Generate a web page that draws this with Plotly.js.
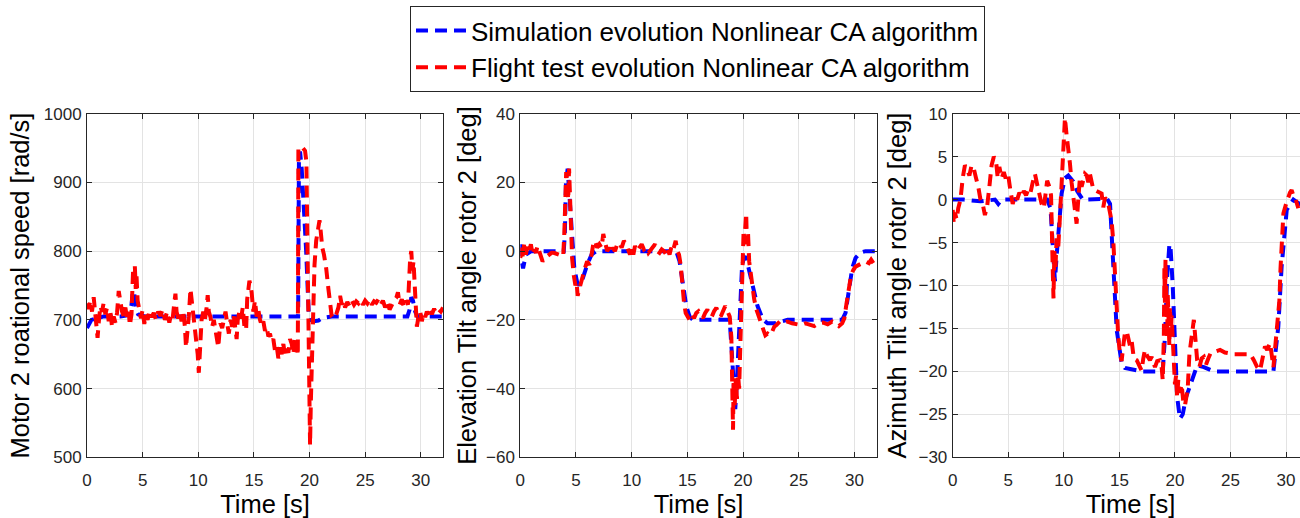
<!DOCTYPE html>
<html>
<head>
<meta charset="utf-8">
<script src="https://cdn.plot.ly/plotly-3.0.1.min.js"></script>
<style>
html,body{margin:0;padding:0;overflow:hidden;background:#fff;}
#chart{width:1320px;height:518px;}
</style>
</head>
<body>
<div id="chart"></div>
<script>
// ---------- Data ----------
const seriesNames = ['Simulation evolution Nonlinear CA algorithm', 'Flight test evolution Nonlinear CA algorithm'];
const yTitles = ['Motor 2 roational speed [rad/s]', 'Elevation Tilt angle rotor 2 [deg]', 'Azimuth Tilt angle rotor 2 [deg]'];
const xTitle = 'Time [s]';

// Panel 1: motor speed
const tSimSpeed = [0,0.15,0.4,0.8,1.5,3.0,3.8,4.0,4.12,4.25,4.4,4.6,5.2,7,10,14,18,18.98,19.05,19.15,19.3,19.5,19.7,19.85,19.95,20.1,20.4,20.8,21.2,22,25,28.8,29.0,29.15,29.3,29.5,29.7,30,32];
const simSpeed  = [688,692,700,702,705,705,707,722,742,738,715,708,705,705,705,705,705,705,930,945,920,870,800,740,706,700,698,699,703,705,705,705,715,733,728,712,705,705,705];
const tFltSpeed = [0,0.15,0.3,0.45,0.6,0.75,0.85,0.95,1.05,1.2,1.35,1.5,1.65,1.8,1.95,2.1,2.25,2.4,2.55,2.7,2.85,3.0,3.15,3.3,3.45,3.6,3.75,3.85,4.0,4.08,4.15,4.22,4.3,4.38,4.45,4.55,4.7,4.85,5.0,5.15,5.3,5.45,5.6,5.8,6.0,6.2,6.4,6.6,6.8,7.0,7.2,7.4,7.55,7.7,7.85,7.95,8.05,8.2,8.35,8.5,8.65,8.8,8.9,9.0,9.15,9.3,9.4,9.5,9.65,9.8,9.95,10.05,10.15,10.3,10.45,10.6,10.75,10.85,10.95,11.1,11.25,11.4,11.55,11.7,11.8,11.9,12.0,12.15,12.3,12.45,12.6,12.75,12.9,13.05,13.2,13.35,13.45,13.55,13.7,13.85,14.0,14.15,14.3,14.4,14.5,14.6,14.7,14.8,14.95,15.1,15.25,15.4,15.55,15.7,15.85,16.0,16.15,16.3,16.45,16.6,16.75,16.9,17.05,17.2,17.35,17.5,17.65,17.8,17.95,18.1,18.25,18.4,18.55,18.7,18.85,18.95,19.0,19.2,19.4,19.6,19.72,19.8,19.88,19.95,20.0,20.05,20.12,20.2,20.3,20.45,20.6,20.75,20.9,21.0,21.15,21.3,21.5,21.7,21.85,22.0,22.2,22.4,22.6,22.75,22.9,23.05,23.2,23.4,23.6,23.8,24.0,24.2,24.4,24.6,24.8,25.0,25.2,25.4,25.6,25.8,26.0,26.2,26.4,26.6,26.8,27.0,27.2,27.4,27.6,27.8,27.95,28.1,28.3,28.5,28.7,28.85,28.95,29.05,29.15,29.25,29.35,29.45,29.55,29.65,29.8,29.95,30.1,30.25,30.4,30.55,30.7,30.85,31.0,31.2,31.4,31.6,31.8,32.0];
const fltSpeed  = [724,716,728,712,733,700,680,674,695,720,712,725,708,718,698,712,690,705,696,710,742,725,712,705,718,702,712,692,708,745,775,760,778,745,765,728,712,702,715,694,708,700,712,704,710,700,712,706,715,700,712,696,708,702,725,738,712,702,710,698,712,690,660,675,705,745,730,715,698,680,650,623,660,700,712,700,718,736,712,704,690,700,685,668,660,680,695,688,700,712,695,680,700,690,705,685,672,700,712,702,718,690,685,730,748,757,750,740,712,728,705,715,700,692,698,684,690,676,680,668,672,655,662,644,660,650,665,648,658,652,672,665,650,675,668,648,950,948,950,946,930,800,700,600,545,518,580,640,700,780,815,828,845,830,805,795,775,745,720,705,702,708,718,735,722,728,718,726,720,728,722,727,724,729,722,728,724,730,722,727,725,730,722,728,718,726,715,722,728,732,740,722,730,718,728,722,760,790,800,772,785,745,730,690,705,712,698,710,704,712,706,714,708,716,710,715,712,718];

// Panel 2: elevation tilt angle
const tSimElev = [0,0.1,0.25,0.5,1,3.9,4.0,4.1,4.25,4.4,4.6,4.85,5.1,5.3,5.6,6.0,6.4,6.8,8,14.0,14.3,14.6,14.9,15.2,15.5,16.5,18.8,19.0,19.2,19.3,19.45,19.6,19.75,19.9,20.05,20.2,20.5,20.9,21.3,21.8,22.2,22.8,23.5,24,26,28.9,29.2,29.5,29.8,30.1,30.5,31,32];
const simElev  = [2,-3,-5,-1,0,0,5,20,24,17,5,-5,-9,-10,-8,-4,-1,0,0,0,-3,-10,-16,-19,-20,-20,-20,-30,-44,-46,-38,-25,-14,-5,-2,-1.5,-5,-10,-16,-20,-21,-21,-20.5,-20,-20,-20,-18,-11,-5,-2,-0.5,0,0];
const tFltElev = [0,0.1,0.2,0.35,0.5,0.65,0.8,0.95,1.1,1.25,1.4,1.55,1.7,1.85,2.0,2.2,2.4,2.6,2.8,3.0,3.3,3.6,3.85,3.95,4.05,4.12,4.2,4.3,4.38,4.45,4.55,4.65,4.8,4.95,5.05,5.15,5.3,5.45,5.6,5.8,6.0,6.2,6.4,6.55,6.7,6.9,7.1,7.3,7.45,7.6,7.8,8.0,8.15,8.3,8.5,8.7,8.9,9.1,9.3,9.5,9.7,9.85,10.0,10.15,10.3,10.5,10.7,10.9,11.1,11.3,11.5,11.7,11.9,12.1,12.3,12.5,12.7,12.9,13.1,13.25,13.4,13.55,13.7,13.85,13.95,14.1,14.25,14.4,14.55,14.7,14.85,15.0,15.2,15.4,15.6,15.8,16.0,16.2,16.4,16.6,16.8,17.0,17.2,17.4,17.6,17.8,18.0,18.2,18.4,18.6,18.8,18.95,19.05,19.1,19.15,19.25,19.35,19.45,19.55,19.65,19.75,19.85,19.95,20.05,20.12,20.2,20.28,20.35,20.45,20.55,20.7,20.85,21.0,21.2,21.4,21.6,21.8,22.0,22.2,22.4,22.6,22.8,23.0,23.3,23.6,24.0,24.4,24.8,25.2,25.6,26.0,26.4,26.8,27.2,27.6,28.0,28.3,28.6,28.9,29.1,29.3,29.5,29.7,29.9,30.1,30.4,30.7,31.0,31.3,31.5,31.7];
const fltElev  = [-2,1,-1.5,2,-1,1.5,0,2,-1,0.5,-0.5,1.5,0,-2,-3,-2,-1.5,-1,-0.5,-0.5,-0.8,-1,-1.5,5,18,23,20,15,24,18,5,-2,-7,-10,-9,-13,-11,-9,-8,-5,-3,-4,-1,2,3,1,2,1,5,3,0,1,-0.5,1,0,2,2.5,1,3,2,0,-1,1,-1,1.5,0,1,2,0.5,1,-0.5,0.5,1,2,0,-0.5,0.5,0,-1,0.5,-1,1,0,1.5,3,0,-1,-4,-10,-15,-18,-19,-20,-18.5,-19.5,-18,-17.5,-18.5,-19.5,-18,-17,-18.5,-19,-17.5,-16.5,-18,-19,-17.5,-16,-17.5,-19,-25,-42,-52,-38,-45,-37,-43,-36,-40,-28,-15,-2,6,3,9,11,2,5,-3,-7,-11,-14,-17,-19,-21,-23,-24.5,-24,-24.5,-23.5,-22,-21.5,-20.5,-21,-20.5,-21,-21.2,-21.5,-21,-21.5,-21.8,-21,-20.8,-21.3,-20.5,-21,-21.8,-21,-19.5,-15,-10,-7,-5.5,-4.5,-4,-3.5,-3,-3.5,-2.5,-3.5];

// Panel 3: azimuth tilt angle
const tSimAzim = [0,1,2.5,3.8,4.1,4.4,6,8.5,8.8,9.0,9.2,9.35,9.6,9.8,10.1,10.4,10.85,11.2,11.7,12.2,13.5,13.9,14.16,14.46,14.76,15.2,15.5,17,18.9,19.1,19.3,19.5,19.6,19.8,20.0,20.2,20.45,20.7,21.0,21.5,22.0,22.6,23.5,26,28.86,29.3,29.6,30.06,30.66,31.1,32];
const simAzim  = [0,0,-0.2,0,-0.5,0,0,0,-1,-5,-9.5,-6.6,-2,0.7,2.5,2.8,2.1,1,0,0,0,0.1,-0.5,-7,-15.2,-19,-19.6,-20,-20,-16,-9,-5.2,-5.5,-10,-17,-23,-25.5,-25,-23,-21,-19.3,-19.5,-20,-20,-20,-14.8,-7.8,-1.2,0,-0.4,-1];
const tFltAzim = [0,0.1,0.2,0.35,0.5,0.7,0.9,1.1,1.3,1.5,1.7,1.9,2.1,2.3,2.5,2.7,2.9,3.1,3.3,3.5,3.7,3.9,4.05,4.2,4.4,4.6,4.8,5.0,5.2,5.4,5.6,5.8,6.0,6.2,6.4,6.6,6.8,7.0,7.2,7.4,7.6,7.8,8.0,8.2,8.35,8.5,8.7,8.85,9.0,9.07,9.15,9.25,9.35,9.5,9.65,9.8,9.95,10.1,10.25,10.4,10.55,10.7,10.85,11.0,11.15,11.3,11.45,11.6,11.75,11.9,12.06,12.2,12.35,12.5,12.65,12.8,13.0,13.2,13.4,13.55,13.7,13.85,14.0,14.15,14.3,14.46,14.6,14.75,14.9,15.05,15.2,15.35,15.5,15.66,15.8,15.95,16.1,16.3,16.56,16.75,17.0,17.15,17.3,17.5,17.75,17.9,18.05,18.2,18.4,18.65,18.8,18.9,19.0,19.05,19.1,19.15,19.2,19.25,19.3,19.35,19.4,19.5,19.55,19.65,19.7,19.8,19.9,20.0,20.1,20.2,20.3,20.45,20.6,20.75,20.9,21.0,21.15,21.3,21.45,21.6,21.7,21.85,22.0,22.2,22.4,22.6,22.8,23.0,23.2,23.6,24.06,24.5,25.3,26.0,26.8,27.1,27.4,27.66,27.9,28.1,28.3,28.56,28.7,28.86,29.0,29.16,29.3,29.4,29.5,29.6,29.76,30.0,30.2,30.35,30.5,30.65,30.8,30.95,31.1];
const fltAzim  = [-1.2,-2.8,-1.5,-2.3,-1,0,2.5,4,3.5,2.8,4,3.6,2.5,1.5,0,-0.5,-1.8,-0.8,1.5,4,5,4.5,2.5,3.8,2.5,3.2,2.3,2.8,1,-0.5,0.5,0,0.8,0.3,1,0.5,1.2,0.8,2,3,1.8,0.5,-0.5,-1,1,2.2,1.5,0.5,-8,-11.5,-6,-8,-4.5,-5.5,-2,1.5,6,9.5,7.5,6,4.2,2,0,-1.5,-2.8,0,2.6,1.5,2.4,3,2.8,2,3,2.2,1.2,1.1,1,0.9,0.7,-0.9,0.2,0,-0.5,-1.5,-2.5,-5,-9,-13,-16,-18,-18.8,-17,-15.5,-15.3,-16.5,-17,-16.4,-18.5,-18.7,-19.3,-19.9,-18.5,-17.5,-18.2,-18.7,-18.3,-19,-19.5,-18.8,-18.7,-19.5,-21,-16,-8,-12,-7,-14,-10,-16,-11,-13,-17,-12.5,-15,-13.5,-17,-19,-21.5,-20.5,-23,-21,-22.5,-21.5,-23.5,-24,-23,-22,-18,-16,-15,-14,-16.5,-18.7,-19.5,-18.5,-18.3,-19.2,-18.5,-17.9,-17.7,-17.5,-17.8,-18,-18,-18,-18.7,-19.5,-19.9,-18.5,-17.1,-17.5,-16.7,-18,-19.5,-17.5,-15.5,-14,-11.7,-8,-4.7,-1.6,-0.5,0.3,0.8,1.1,0.5,0.3,-0.3,-1];

const yRanges = [[500,1000],[-60,40],[-30,10]];
const yDticks = [100,20,5];
const xRange = [0,32];

// ---------- Style ----------
const FONT = 'Liberation Sans, Arial, Helvetica, sans-serif';
const W = 1320, H = 518;
const colors = ['#0000ff', '#ff0000'];
const dashPat = '12px,7px';
const lineW = 4;

const panels = [
  {ts: tSimSpeed, s: simSpeed, tf: tFltSpeed, f: fltSpeed},
  {ts: tSimElev, s: simElev, tf: tFltElev, f: fltElev},
  {ts: tSimAzim, s: simAzim, tf: tFltAzim, f: fltAzim}
];
const xPix = [[87,443],[520.3,876.7],[952.7,1308.3]];
const yPix = [113.7, 457.3];
const yTitleStandoff = [6, 2, 4];

const traces = [];
panels.forEach((p, i) => {
  const sfx = i === 0 ? '' : String(i + 1);
  traces.push({x: p.ts, y: p.s, xaxis: 'x' + sfx, yaxis: 'y' + sfx, type: 'scatter', mode: 'lines',
    name: seriesNames[0], legendgroup: 'sim', showlegend: i === 0,
    line: {color: colors[0], width: lineW, dash: dashPat}});
});
panels.forEach((p, i) => {
  const sfx = i === 0 ? '' : String(i + 1);
  traces.push({x: p.tf, y: p.f, xaxis: 'x' + sfx, yaxis: 'y' + sfx, type: 'scatter', mode: 'lines',
    name: seriesNames[1], legendgroup: 'flt', showlegend: i === 0,
    line: {color: colors[1], width: lineW, dash: dashPat}});
});

function axBase() {
  return {showline: true, linecolor: '#262626', linewidth: 1, mirror: 'ticks',
    ticks: 'inside', ticklen: 5, tickcolor: '#262626', tickwidth: 1,
    showgrid: true, gridcolor: '#e3e3e3', gridwidth: 1, zeroline: false,
    tickfont: {family: FONT, size: 17, color: '#262626'}, automargin: false};
}

const layout = {
  width: W, height: H, margin: {l: 0, r: 0, t: 0, b: 0},
  paper_bgcolor: '#ffffff', plot_bgcolor: '#ffffff',
  font: {family: FONT, color: '#000'},
  showlegend: true,
  legend: {x: 410 / W, y: 1 - 6 / H, xanchor: 'left', yanchor: 'top',
    bordercolor: '#262626', borderwidth: 1, bgcolor: '#ffffff',
    font: {family: FONT, size: 26, color: '#000'}, itemwidth: 50, tracegroupgap: 0}
};

for (let i = 0; i < 3; i++) {
  const sfx = i === 0 ? '' : String(i + 1);
  const xa = axBase();
  Object.assign(xa, {domain: [xPix[i][0] / W, xPix[i][1] / W], range: xRange, tick0: 0, dtick: 5,
    anchor: 'y' + sfx, ticklabelstandoff: 7,
    title: {text: xTitle, font: {family: FONT, size: 25.5, color: '#000'}, standoff: 6}});
  const ya = axBase();
  Object.assign(ya, {domain: [1 - yPix[1] / H, 1 - yPix[0] / H], range: yRanges[i], tick0: yRanges[i][0], dtick: yDticks[i],
    anchor: 'x' + sfx, ticklabelstandoff: 1,
    title: {text: yTitles[i], font: {family: FONT, size: 25.5, color: '#000'}, standoff: yTitleStandoff[i]}});
  layout['xaxis' + sfx] = xa;
  layout['yaxis' + sfx] = ya;
}

Plotly.newPlot('chart', traces, layout, {displayModeBar: false, staticPlot: true});
</script>
</body>
</html>
